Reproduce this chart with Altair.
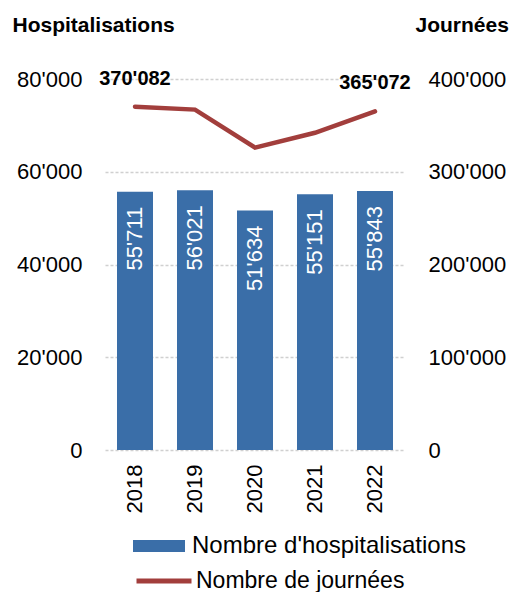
import altair as alt
import pandas as pd

years = ["2018", "2019", "2020", "2021", "2022"]
hospitalisations = [55711, 56021, 51634, 55151, 55843]
journees = [370082, 367000, 326000, 342000, 365072]
labelled_years = ["2018", "2022"]
serie_bars = "Nombre d'hospitalisations"
serie_line = "Nombre de journées"
left_ticks = [0, 20000, 40000, 60000, 80000]
right_ticks = [0, 100000, 200000, 300000, 400000]

df = pd.DataFrame({
    "annee": years,
    "hosp": hospitalisations,
    "jours": journees,
    "s1": [serie_bars] * len(years),
    "s2": [serie_line] * len(years),
})

FONT = "Liberation Sans"
BLUE = "#3a6ea8"
RED = "#a23e3c"

x = alt.X(
    "annee:N",
    scale=alt.Scale(paddingInner=0.4, paddingOuter=0.2),
    axis=alt.Axis(title=None, labelAngle=270, labelFontSize=22, labelPadding=14,
                  ticks=False, domain=False, labelColor="black"),
)

base = alt.Chart(df)

y_left = alt.Y(
    "hosp:Q",
    scale=alt.Scale(domain=[0, 80000]),
    axis=alt.Axis(
        title="Hospitalisations", orient="left", values=left_ticks, format=",d",
        labelFontSize=22, labelPadding=23, labelColor="black", ticks=False, domain=False,
        grid=True, gridColor="#d0d0d0", gridDash=[3, 2], gridWidth=1.5,
        titleAngle=0, titleX=-93, titleY=-48, titleAlign="left",
        titleBaseline="alphabetic", titleFontSize=21, titleFontWeight="bold",
        titleColor="black",
    ),
)

bars = base.mark_bar().encode(
    x=x,
    y=y_left,
    color=alt.Color(
        "s1:N",
        scale=alt.Scale(domain=[serie_bars], range=[BLUE]),
        legend=alt.Legend(
            title=None, orient="none", legendX=28, legendY=441,
            symbolType="M-1,-0.23H1V0.23H-1Z", symbolSize=2704,
            symbolStrokeWidth=0, labelFontSize=24, labelOffset=7, padding=0,
            labelColor="black", labelFont=FONT, labelLimit=400,
        ),
    ),
)

bar_text = base.mark_text(
    angle=270, align="right", baseline="middle", dx=-15, color="white", fontSize=22
).encode(x=x, y=alt.Y("hosp:Q"), text=alt.Text("hosp:Q", format=",d"))

y_right = alt.Y(
    "jours:Q",
    scale=alt.Scale(domain=[0, 400000]),
    axis=alt.Axis(
        title="Journées", orient="right", values=right_ticks, format=",d",
        labelFontSize=22, labelPadding=23, labelColor="black", ticks=False, domain=False,
        grid=False, titleAngle=0, titleX=10, titleY=-48, titleAlign="left",
        titleBaseline="alphabetic", titleFontSize=21, titleFontWeight="bold",
        titleColor="black",
    ),
)

line = base.mark_line(strokeWidth=4.5, strokeCap="round").encode(
    x=x,
    y=y_right,
    stroke=alt.Stroke(
        "s2:N",
        scale=alt.Scale(domain=[serie_line], range=[RED]),
        legend=alt.Legend(
            title=None, orient="none", legendX=29, legendY=472,
            symbolType="stroke", symbolSize=3025, symbolStrokeWidth=5,
            labelFontSize=23, labelOffset=2, padding=0, labelColor="black",
            labelFont=FONT, labelLimit=400,
        ),
    ),
)

line_text = base.transform_filter(
    alt.FieldOneOfPredicate(field="annee", oneOf=labelled_years)
).mark_text(fontSize=20, fontWeight="bold", dy=-28, baseline="middle", color="black").encode(
    x=x, y=alt.Y("jours:Q"), text=alt.Text("jours:Q", format=",d")
)

chart = alt.layer(
    alt.layer(bars, bar_text),
    alt.layer(line, line_text),
).resolve_scale(y="independent").properties(
    width=300,
    height=371,
    autosize=alt.AutoSizeParams(type="none"),
    padding={"left": 105, "top": 79, "right": 111, "bottom": 142},
).configure(
    font=FONT,
    locale={"number": {"decimal": ".", "thousands": "'", "grouping": [3], "currency": ["", ""]}},
).configure_view(stroke=None)

chart.save("out.html", embed_options={"renderer": "svg", "actions": False})
